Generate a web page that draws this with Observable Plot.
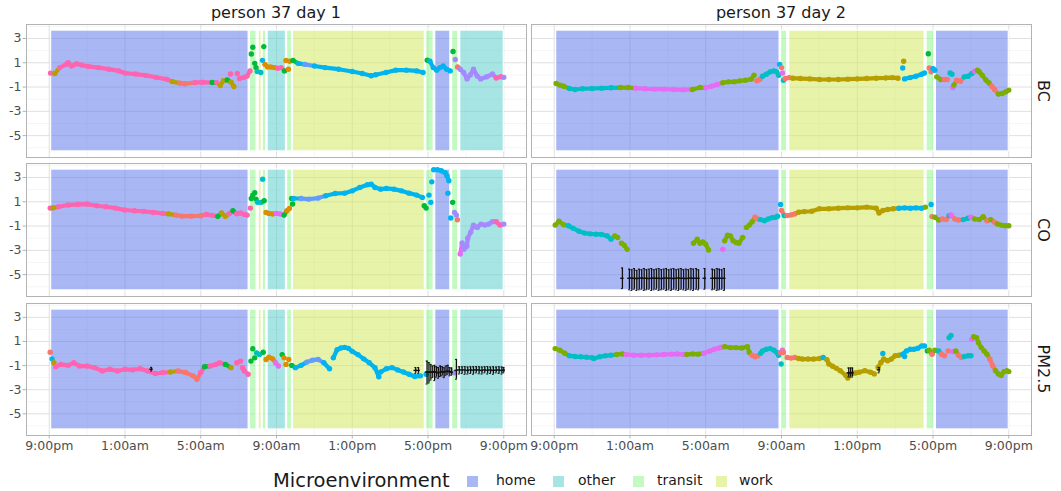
<!DOCTYPE html>
<html><head><meta charset="utf-8">
<script src="https://cdn.jsdelivr.net/npm/d3@7"></script>
<script src="https://cdn.jsdelivr.net/npm/@observablehq/plot@0.6"></script>
<style>
body{margin:0;background:#fff;}
#chart{position:relative;width:1061px;height:491px;font-family:"DejaVu Sans",sans-serif;overflow:hidden;background:#fff}
.panel{position:absolute}
.panel svg{overflow:visible}
.panel svg text{font-family:"DejaVu Sans",sans-serif !important;font-size:12.5px !important;fill:#4d4d4d}
.panel svg g[aria-label*="axis"] line,.panel svg g[aria-label*="axis"] path{stroke:#b3b3b3}
.lab{position:absolute;white-space:nowrap;color:#1a1a1a;line-height:1.25}
.sw{position:absolute;width:11px;height:11px}
</style></head><body><div id="chart"></div><script>
// ---- scales / labels ----
const xTicks = [0,4,8,12,16,20,24];
const xLabels = ["9:00pm","1:00am","5:00am","9:00am","1:00pm","5:00pm","9:00pm"];
const yTicks = [-5,-3,-1,1,3];
const facetCols = ["person 37 day 1","person 37 day 2"];
const facetRows = ["BC","CO","PM2.5"];
const envNames = ["home","other","transit","work"];
const envFill = ["#647ced","#5fd0d0","#90f690","#d2e961"];
const pointColors = ["#F8766D","#DE8C00","#B79F00","#7CAE00","#00BA38","#00BFC4","#00B4F0","#619CFF","#A58AFF","#E76BF3","#FF64B0"];

// ---- microenvironment periods (hours after 9:00pm) ----
const envDay1 = [["home",0.1,10.53],["transit",10.6,10.95],["work",11.06,11.22],["transit",11.27,11.46],["other",11.53,12.5],["transit",12.56,12.82],["work",12.87,19.83],["transit",19.9,20.3],["home",20.38,21.18],["transit",21.27,21.6],["other",21.7,24.0]];
const envDay2 = [["home",0.1,11.9],["transit",11.99,12.3],["work",12.41,19.56],["transit",19.66,20.07],["home",20.15,24.0]];

// ---- measurements: runs of [hour, value, colour group] ----
const bcDay1 = [
 [[0.07,0.15,10],[0.3,0.12,2],[0.55,0.6,10],[0.9,0.87,10],[1.0,1.0,10],[1.17,0.73,10],[1.45,0.92,10],[1.7,0.81,10],[2.07,0.7,10],[2.6,0.6,10],[3.14,0.47,10],[3.67,0.33,10],[4.0,0.15,10],[4.57,0.07,10],[5.1,-0.04,10],[5.64,-0.2,10],[6.2,-0.36,10],[6.5,-0.55,2],[6.9,-0.68,0],[7.16,-0.73,0],[7.7,-0.63,10],[8.1,-0.6,10],[8.6,-0.63,4],[8.85,-0.65,10]],
 [[9.03,-0.87,2],[9.2,-0.47,2],[9.4,-0.41,4],[9.6,-0.6,2],[9.75,-0.95,2]],
 [[9.57,0.07,10]],[[9.93,0.12,10]],
 [[10.05,-0.3,10],[10.28,-0.2,10],[10.45,-0.1,10],[10.6,0.33,10]],
 [[10.67,1.72,4]],[[10.75,2.28,4]],[[10.85,0.95,4]],[[10.92,0.6,4]],
 [[10.98,0.28,5],[11.17,0.2,5]],
 [[11.26,1.2,6]],[[11.33,2.33,4]],
 [[11.39,0.87,1],[11.53,0.65,1],[11.7,0.65,1],[11.9,0.6,1],[12.07,0.55,10],[12.25,0.6,10],[12.42,0.33,4]],
 [[12.5,1.19,1]],[[12.63,0.47,1]],[[12.7,1.13,1]],
 [[12.87,1.19,4],[13.14,0.95,6],[13.5,0.87,7],[14.0,0.73,6],[14.57,0.6,6],[15.28,0.47,6],[16.0,0.28,6],[16.53,0.12,6],[17.0,-0.07,6],[17.24,0.01,6],[17.78,0.2,6],[18.3,0.39,6],[18.85,0.39,6],[19.4,0.33,6],[19.74,0.2,6]],
 [[19.96,1.21,4],[20.1,1.13,6],[20.28,0.6,6],[20.46,0.39,6],[20.63,0.6,6],[20.8,0.73,6],[20.98,0.47,6],[21.17,0.33,6]],
 [[21.32,1.93,4]],[[21.44,1.27,8]],
 [[21.56,0.65,0],[21.7,0.47,8],[21.88,0.2,8],[22.06,-0.33,8],[22.24,0.01,8],[22.4,0.47,8],[22.6,-0.1,8],[22.78,-0.33,8],[23.1,-0.15,8],[23.4,0.07,8],[23.6,-0.25,10],[23.85,-0.15,10],[24.0,-0.2,8]]
];
const coDay1 = [
 [[0.05,0.48,10],[0.2,0.5,2],[0.5,0.59,10],[1.0,0.73,10],[1.5,0.78,10],[2.0,0.81,10],[2.5,0.67,10],[3.0,0.59,10],[3.5,0.48,10],[4.0,0.32,10],[4.5,0.26,10],[5.0,0.21,10],[5.5,0.12,10],[6.0,0.04,10],[6.3,0.0,2],[6.7,-0.1,0],[7.0,-0.18,0],[7.5,-0.18,0],[8.0,-0.15,0],[8.3,-0.04,10],[8.6,-0.12,10],[8.9,-0.2,4],[9.1,0.07,2],[9.3,-0.2,2],[9.5,0.01,10],[9.7,0.26,4],[9.9,0.01,10],[10.1,0.07,10],[10.3,-0.04,10],[10.45,-0.1,10]],
 [[10.62,0.48,10]],
 [[10.67,1.27,4]],[[10.75,1.55,4]],[[10.85,1.74,4]],[[10.92,1.22,4]],
 [[11.0,0.95,5],[11.2,0.95,5]],
 [[11.27,2.86,5]],[[11.35,1.08,4]],
 [[11.45,0.12,1],[11.6,0.04,1],[11.8,-0.01,1],[12.0,0.04,9],[12.2,-0.01,9],[12.4,-0.1,4],[12.55,0.26,1],[12.68,0.45,1]],
 [[12.8,1.27,4]],[[12.85,0.81,4]],
 [[12.9,1.27,6],[13.3,1.27,7],[13.7,1.22,7],[14.2,1.3,7],[14.6,1.49,6],[15.1,1.68,6],[15.6,1.71,6],[16.0,1.9,6],[16.4,2.18,6],[16.8,2.4,6],[17.0,2.45,6],[17.2,2.18,6],[17.5,2.04,6],[17.8,2.1,6],[18.2,2.04,6],[18.6,1.9,6],[19.0,1.71,6],[19.4,1.55,6],[19.7,1.36,6]],
 [[19.8,0.67,4]],[[19.9,0.48,4]],[[20.05,1.55,6]],[[20.15,0.95,6]],[[20.2,2.64,6]],
 [[20.3,3.63,6],[20.5,3.63,6],[20.7,3.55,6],[20.9,3.4,6],[21.0,3.14,6],[21.1,2.73,6]],
 [[21.05,1.71,6]],[[21.2,-0.34,6]],[[21.3,0.95,4]],
 [[21.4,0.12,8],[21.5,-0.1,8]],[[21.55,-0.48,0]],
 [[21.7,-3.3,9],[21.8,-2.4,8],[21.9,-2.9,8],[22.05,-2.67,8],[22.1,-2.0,8],[22.25,-1.52,8],[22.4,-0.92,8],[22.6,-1.11,8],[22.8,-0.84,8],[23.0,-0.92,8],[23.2,-0.84,8],[23.4,-0.64,8],[23.6,-0.64,10],[23.8,-0.92,10],[24.0,-0.84,8]]
];
const pmDay1 = [
 [[0.05,0.1,0]],[[0.15,-0.44,6]],[[0.25,-0.77,2]],
 [[0.35,-1.09,10],[0.6,-0.9,10],[1.0,-0.98,10],[1.3,-0.77,10],[1.6,-1.04,10],[2.0,-1.04,10],[2.4,-1.17,10],[2.8,-1.45,10],[3.2,-1.31,10],[3.6,-1.45,10],[4.0,-1.31,10],[4.4,-1.36,10],[4.8,-1.26,10],[5.2,-1.45,10],[5.6,-1.66,10],[6.0,-1.58,10],[6.4,-1.53,2],[6.8,-1.45,0],[7.2,-1.58,0],[7.6,-1.85,0],[7.8,-2.13,0],[8.0,-1.58,10],[8.2,-1.09,4],[8.5,-1.04,10],[8.8,-0.9,10],[9.0,-0.77,10],[9.3,-0.9,4],[9.6,-1.17,2]],
 [[9.9,-0.77,10],[10.1,-0.63,10]],
 [[10.2,-1.17,10],[10.3,-1.45,10],[10.5,-1.72,10]],
 [[10.65,-0.63,4]],[[10.75,0.4,4]],[[10.85,-0.36,4]],
 [[10.95,0.05,5],[11.1,-0.09,5],[11.3,0.1,4]],
 [[11.45,-0.49,1],[11.6,-0.3,1],[11.8,-0.44,1],[11.95,-0.77,9],[12.1,-1.04,9]],
 [[12.3,-0.09,4]],[[12.4,-0.36,1]],[[12.5,-0.9,1]],[[12.65,-0.49,1]],
 [[12.8,-0.98,4],[13.0,-1.17,6],[13.3,-0.98,6],[13.6,-0.71,7],[13.9,-0.55,7],[14.2,-0.49,7],[14.5,-0.77,6],[14.8,-1.26,6]],
 [[15.0,-0.36,6],[15.2,0.32,6],[15.4,0.46,6],[15.6,0.51,6],[15.8,0.43,6],[16.0,0.18,6],[16.3,-0.09,6],[16.6,-0.44,6],[16.9,-0.77,6],[17.2,-1.17,6],[17.4,-1.93,6]],
 [[17.5,-1.53,6],[17.8,-1.26,6],[18.1,-1.17,6],[18.4,-1.36,6],[18.7,-1.53,6],[19.0,-1.72,6],[19.3,-1.91,6],[19.6,-1.85,6]],
 [[19.9,-1.72,6]],[[21.4,-1.6,8]]
];
const bcDay2 = [
 [[0.1,-0.71,3],[0.3,-0.84,3],[0.5,-0.93,3],[0.8,-1.12,5],[1.1,-1.2,5],[1.5,-1.14,5],[2.0,-1.12,5],[2.5,-1.09,5],[3.0,-1.06,5],[3.5,-1.04,3],[3.9,-1.04,3],[4.3,-1.09,9],[4.8,-1.14,9],[5.3,-1.17,9],[5.8,-1.17,9],[6.3,-1.2,9],[6.8,-1.23,9],[7.3,-1.2,3],[7.7,-1.04,3],[8.0,-1.06,9],[8.3,-0.93,9],[8.6,-0.79,9],[8.9,-0.65,3],[9.2,-0.57,3],[9.5,-0.57,3],[9.8,-0.49,3],[10.1,-0.44,3],[10.4,-0.35,3],[10.55,-0.03,3]],
 [[10.7,-0.49,0],[10.85,-0.38,0],[11.0,-0.11,5],[11.2,0.05,5],[11.4,0.25,5],[11.6,0.33,5],[11.75,0.25,5],[11.85,-0.03,5]],
 [[11.9,0.87,6]],[[12.0,0.6,0]],[[12.05,0.16,9]],[[12.1,-0.44,5]],
 [[12.2,-0.3,0],[12.4,-0.22,0],[12.6,-0.27,2],[13.0,-0.3,2],[13.5,-0.33,2],[14.0,-0.38,2],[14.5,-0.38,2],[15.0,-0.38,2],[15.5,-0.35,2],[16.0,-0.33,2],[16.5,-0.3,2],[17.0,-0.27,2],[17.5,-0.25,2],[17.85,-0.22,2],[18.15,-0.27,2]],
 [[18.4,0.57,6]],[[18.45,1.12,2]],
 [[18.5,-0.33,6],[18.8,-0.22,6],[19.1,-0.11,6],[19.4,0.05,6],[19.55,0.16,6]],
 [[19.75,1.74,4]],[[19.8,0.57,0]],[[19.9,0.25,0]],[[20.0,0.52,6]],[[20.1,0.38,6]],
 [[20.2,-0.16,3],[20.4,-0.38,3],[20.6,-0.38,0],[20.75,-0.38,0]],
 [[20.9,0.16,5],[21.0,0.05,5]],
 [[21.05,-1.04,9],[21.1,-0.84,3],[21.25,-0.44,0],[21.45,-0.52,0],[21.65,-0.16,5],[21.85,-0.11,5],[22.05,0.11,5],[22.2,0.3,9],[22.35,0.38,3],[22.45,0.25,3],[22.6,-0.03,3],[22.8,-0.44,3],[22.95,-0.65,3],[23.1,-0.93,0],[23.25,-1.2,0],[23.45,-1.58,3],[23.65,-1.53,3],[23.85,-1.39,3],[24.0,-1.25,3]]
];
const coDay2 = [
 [[0.05,-0.92,3],[0.25,-0.61,3],[0.5,-0.89,3],[0.75,-0.97,5],[1.0,-1.19,5],[1.3,-1.42,5],[1.6,-1.58,5],[1.9,-1.64,5],[2.2,-1.67,5],[2.5,-1.69,5],[2.8,-1.81,5],[3.0,-2.08,5],[3.2,-1.81,3],[3.35,-1.94,3]],
 [[3.55,-2.42,3],[3.7,-2.58,3],[3.85,-2.92,3]],
 [[7.35,-2.42,3],[7.55,-2.08,3],[7.7,-2.42,3],[7.85,-2.31,3],[8.0,-2.5,3],[8.15,-2.97,3]],
 [[8.9,-2.92,9]],
 [[9.0,-2.22,3],[9.15,-1.75,3],[9.3,-1.81,3],[9.45,-2.22,3],[9.6,-2.36,3],[9.75,-2.42,3],[9.95,-1.94,3]],
 [[10.15,-1.11,3],[10.3,-0.92,3],[10.45,-0.64,3],[10.6,-0.28,0],[10.75,-0.42,0],[10.9,-0.47,5],[11.1,-0.56,5],[11.3,-0.42,5],[11.5,-0.31,5],[11.7,-0.28,5],[11.8,-0.19,5]],
 [[11.95,0.78,6]],
 [[12.0,0.28,0],[12.15,-0.14,5]],
 [[12.3,-0.14,0],[12.5,-0.08,0],[12.7,0.0,0],[12.9,0.14,2],[13.2,0.19,2],[13.6,0.22,2],[14.0,0.42,2],[14.5,0.42,2],[15.0,0.47,2],[15.5,0.5,2],[16.0,0.5,2],[16.5,0.56,2],[17.0,0.47,2],[17.15,0.08,2],[17.35,0.28,2],[17.6,0.36,2],[17.9,0.42,2],[18.2,0.47,6],[18.5,0.5,6],[18.8,0.47,6],[19.1,0.5,6],[19.4,0.47,6],[19.6,0.56,3]],
 [[19.9,0.78,6]],[[19.95,-0.22,0]],
 [[20.1,-0.28,3],[20.3,-0.5,3],[20.5,-0.42,0],[20.7,-0.47,0],[20.85,-0.14,5],[20.95,-0.08,9],[21.15,-0.42,0],[21.35,-0.5,0],[21.6,-0.47,5],[21.85,-0.36,5],[22.0,-0.28,9],[22.2,-0.42,3],[22.45,-0.47,3],[22.65,-0.22,3],[22.85,-0.56,0],[23.05,-0.47,3],[23.25,-0.69,0],[23.4,-0.83,3],[23.6,-0.92,3],[23.8,-0.97,3],[24.0,-0.97,3]]
];
const pmDay2 = [
 [[0.05,0.41,3],[0.3,0.27,3],[0.55,0.03,3],[0.8,-0.19,5],[1.1,-0.25,5],[1.4,-0.27,5],[1.7,-0.3,5],[2.0,-0.35,5],[2.1,-0.41,5],[2.4,-0.27,5],[2.7,-0.19,5],[3.0,-0.14,5],[3.3,-0.08,3],[3.6,-0.03,3],[3.8,-0.08,9],[4.2,-0.14,9],[4.6,-0.14,9],[5.0,-0.14,9],[5.4,-0.11,9],[5.8,-0.08,9],[6.2,-0.05,9],[6.5,-0.03,9],[6.8,-0.08,9],[7.0,-0.08,3],[7.3,-0.03,3],[7.6,-0.05,3],[7.9,0.03,9],[8.2,0.19,9],[8.45,0.35,9],[8.7,0.46,9],[8.85,0.52,9],[9.0,0.57,3],[9.3,0.49,3],[9.6,0.49,3],[9.9,0.46,3],[10.2,0.57,3],[10.3,0.08,3]],
 [[10.45,-0.14,0],[10.6,-0.27,0],[10.75,-0.19,0]],
 [[10.9,0.03,5],[11.0,0.22,5],[11.2,0.35,5],[11.4,0.41,5],[11.6,0.27,5],[11.75,0.08,5],[11.85,-0.14,5]],
 [[11.95,0.08,0]],[[12.05,0.27,9]],[[12.1,0.08,0]],[[11.98,-0.87,5]],
 [[12.3,-0.33,0],[12.5,-0.38,0],[12.7,-0.33,0],[12.9,-0.41,2],[13.1,-0.46,2],[13.4,-0.46,2],[13.7,-0.46,2],[14.0,-0.41,2],[14.2,-0.33,6],[14.4,-0.52,2],[14.5,-0.87,2],[14.7,-1.06,2],[14.9,-1.23,2],[15.1,-1.42,2],[15.4,-1.83,2],[15.5,-2.04,2],[15.6,-1.69,2],[15.9,-1.61,2],[16.1,-1.55,2],[16.4,-1.42,2],[16.7,-1.55,2],[16.9,-1.69,2]],
 [[17.1,-1.14,2],[17.25,-0.74,2],[17.4,-0.46,2],[17.6,-0.6,2],[17.8,-0.46,2],[18.0,-0.19,2],[18.2,-0.14,2],[18.4,-0.05,6],[18.6,0.22,6],[18.8,0.35,6],[19.0,0.35,6],[19.2,0.44,6],[19.4,0.63,6],[19.55,0.63,6]],
 [[18.5,-0.25,6]],[[17.35,0.0,6]],
 [[19.7,0.22,4],[19.8,0.27,3],[19.95,-0.05,0],[20.1,0.27,3],[20.3,0.22,5],[20.45,-0.05,0],[20.6,-0.19,0]],
 [[20.8,0.22,0]],[[20.85,1.31,5]],[[20.95,1.5,5]],
 [[21.05,0.16,9],[21.2,0.22,3],[21.35,-0.14,0],[21.5,-0.33,0],[21.65,-0.25,5],[21.85,-0.19,5],[22.0,-0.19,5]],
 [[22.05,1.17,9]],
 [[22.15,1.39,3],[22.3,1.31,3],[22.4,0.9,3],[22.55,0.49,3],[22.7,0.22,3],[22.85,-0.05,3],[23.0,-0.46,0],[23.15,-1.01,0],[23.3,-1.42,3],[23.45,-1.69,3],[23.6,-1.83,3],[23.75,-1.5,3],[23.9,-1.42,3],[24.0,-1.5,3]]
];

// ---- imputed ranges: [hour, mid, low, high] ----
const errPmDay1 = [[5.4,-1.3,-1.45,-1.15],[19.35,-1.4,-1.64,-1.17],[19.5,-1.4,-1.64,-1.17],
 [19.95,-1.53,-2.53,-0.63],[20.05,-1.55,-2.45,-0.75],[20.15,-1.53,-2.2,-0.9],[20.25,-1.55,-2.0,-1.04],[20.35,-1.5,-2.25,-0.98],[20.45,-1.55,-1.95,-1.1],[20.55,-1.6,-2.05,-1.17],[20.65,-1.55,-1.9,-1.04],[20.75,-1.5,-1.85,-1.09],[20.85,-1.55,-2.0,-1.17],[20.95,-1.5,-1.8,-1.04],[21.05,-1.45,-1.72,-0.98],[21.15,-1.5,-1.85,-1.17],[21.25,-1.55,-1.8,-1.2],
 [21.5,-1.4,-2.13,-0.49],
 [21.65,-1.36,-1.7,-1.1],[21.8,-1.36,-1.65,-1.1],[21.95,-1.36,-1.72,-1.09],[22.1,-1.4,-1.7,-1.12],[22.25,-1.36,-1.65,-1.1],[22.4,-1.38,-1.72,-1.1],[22.55,-1.36,-1.6,-1.09],[22.7,-1.36,-1.68,-1.1],[22.85,-1.4,-1.7,-1.12],[23.0,-1.36,-1.6,-1.1],[23.15,-1.38,-1.7,-1.09],[23.3,-1.36,-1.65,-1.12],[23.45,-1.4,-1.72,-1.1],[23.6,-1.38,-1.6,-1.12],[23.75,-1.36,-1.65,-1.1],[23.9,-1.4,-1.7,-1.12],[24.0,-1.38,-1.6,-1.15]];
const errCoDay2 = [[3.6,-5.3,-6.15,-4.45],
 [3.97,-5.3,-6.25,-4.55],[4.1,-5.28,-6.3,-4.6],[4.23,-5.3,-6.2,-4.5],[4.36,-5.32,-6.3,-4.65],[4.49,-5.3,-6.25,-4.55],[4.62,-5.28,-6.2,-4.6],[4.75,-5.3,-6.3,-4.5],[4.88,-5.3,-6.25,-4.6],[5.01,-5.32,-6.2,-4.55],[5.14,-5.3,-6.3,-4.5],[5.27,-5.28,-6.25,-4.6],[5.4,-5.3,-6.2,-4.55],[5.53,-5.3,-6.3,-4.5],[5.66,-5.32,-6.25,-4.6],[5.79,-5.3,-6.2,-4.55],[5.92,-5.28,-6.3,-4.5],[6.05,-5.3,-6.25,-4.6],[6.18,-5.3,-6.3,-4.55],[6.31,-5.32,-6.2,-4.5],[6.44,-5.3,-6.25,-4.6],[6.57,-5.28,-6.3,-4.55],[6.7,-5.3,-6.2,-4.5],[6.83,-5.3,-6.25,-4.6],[6.96,-5.32,-6.3,-4.55],[7.09,-5.3,-6.2,-4.6],[7.22,-5.28,-6.25,-4.5],[7.35,-5.3,-6.3,-4.55],
 [7.5,-5.3,-6.2,-4.5],[7.62,-5.3,-6.25,-4.6],[7.95,-5.3,-6.2,-4.5],
 [8.35,-5.3,-6.25,-4.55],[8.47,-5.3,-6.2,-4.6],[8.6,-5.3,-6.3,-4.5],[8.72,-5.3,-6.25,-4.55],[8.85,-5.3,-6.2,-4.6],[8.98,-5.3,-6.3,-4.5]];
const errPmDay2 = [[15.55,-1.6,-1.95,-1.2],[15.65,-1.6,-1.95,-1.2],[15.75,-1.6,-1.95,-1.2],[17.15,-1.35,-1.6,-1.15]];

// ---- layout ----
const rowGeom = [{top:0,height:160,mt:24,mb:3},{top:160,height:140,mt:3,mb:4},{top:300,height:166,mt:3,mb:31}];
const colGeom = [{left:0,width:528,ml:26,mr:2},{left:529,width:532,ml:2,mr:30}];

const chart = document.getElementById("chart");

function flatten(runs){const out=[];runs.forEach((r,i)=>r.forEach(([h,v,c])=>out.push({h,v,c,run:i})));return out;}

function panel(runs, env, err, row, col){
  const g = rowGeom[row], c = colGeom[col];
  const pts = flatten(runs);
  const bg = env.map(([e,s,t])=>({e,s,t}));
  const er = (err||[]).map(([h,mid,lo,hi])=>({h,mid,lo,hi}));
  const ek = {stroke:"#111", strokeWidth:1};
  const marks = [
    Plot.ruleY([-6,-4,-2,0,2,4], {stroke:"#efefef", strokeWidth:0.6}),
    Plot.ruleX([2,6,10,14,18,22], {stroke:"#efefef", strokeWidth:0.6}),
    Plot.ruleY(yTicks, {stroke:"#e0e0e0", strokeWidth:1}),
    Plot.ruleX(xTicks, {stroke:"#e0e0e0", strokeWidth:1}),
    Plot.rect(bg, {x1:"s", x2:"t", y1:()=>-6.3, y2:()=>3.65, fill:d=>envFill[envNames.indexOf(d.e)], fillOpacity:0.55, stroke:"white", strokeWidth:1.2}),
    Plot.line(pts, {x:"h", y:"v", z:"run", stroke:d=>pointColors[d.c], strokeWidth:4.2}),
    Plot.dot(pts, {x:"h", y:"v", r:2.7, fill:d=>pointColors[d.c]}),
    Plot.ruleX(er, {x:"h", y1:"lo", y2:"hi", stroke:"#111", strokeWidth:1.3}),
    Plot.ruleY(er, {y:"lo", x1:d=>d.h-0.05, x2:d=>d.h+0.05, ...ek}),
    Plot.ruleY(er, {y:"hi", x1:d=>d.h-0.05, x2:d=>d.h+0.05, ...ek}),
    Plot.ruleY(er, {y:"mid", x1:d=>d.h-0.09, x2:d=>d.h+0.09, stroke:"#111", strokeWidth:1.4}),
    Plot.frame({stroke:"#b3b3b3", strokeWidth:1})
  ];
  const svg = Plot.plot({
    width:c.width, height:g.height,
    marginLeft:c.ml, marginRight:c.mr, marginTop:g.mt, marginBottom:g.mb,
    x:{domain:[-1.2,25.2], axis: row===2 ? "bottom" : null, ticks:xTicks, tickFormat:d=>xLabels[xTicks.indexOf(d)], tickSize:3.5, tickPadding:2, label:null},
    y:{domain:[-6.8,4.15], axis: col===0 ? "left" : null, ticks:yTicks, tickFormat:d=>String(d), tickSize:3.5, tickPadding:1.5, label:null},
    color:{type:"identity"},
    style:{background:"transparent", overflow:"visible"},
    marks
  });
  const div = document.createElement("div");
  div.className = "panel";
  div.style.left = c.left+"px"; div.style.top = g.top+"px";
  div.style.width = c.width+"px"; div.style.height = g.height+"px";
  div.appendChild(svg);
  chart.appendChild(div);
}

const panels = [[bcDay1,envDay1,null],[coDay1,envDay1,null],[pmDay1,envDay1,errPmDay1],[bcDay2,envDay2,null],[coDay2,envDay2,errCoDay2],[pmDay2,envDay2,errPmDay2]];
panels.forEach(([runs,env,err],i)=>panel(runs,env,err,i%3,Math.floor(i/3)));

function label(text, x, y, size, rotate, align){
  const d = document.createElement("div");
  d.className = "lab"; d.textContent = text;
  d.style.fontSize = size+"px";
  d.style.left = x+"px"; d.style.top = y+"px";
  d.style.transform = (align==="left" ? "translate(0,-50%)" : "translate(-50%,-50%)") + (rotate ? " rotate(90deg)" : "");
  chart.appendChild(d);
}
// facet strips
label(facetCols[0], 276, 13, 16, false);
label(facetCols[1], 781, 13, 16, false);
const stripY = [90.5, 229.5, 369];
facetRows.forEach((r,i)=>label(r, 1043, stripY[i], 16, true));

// legend
label("Microenvironment", 273, 481, 19.5, false, "left");
const swX = [467,553,633,716], txX = [496,578,657,739];
envNames.forEach((e,i)=>{
  const s = document.createElement("div");
  s.className = "sw";
  s.style.left = swX[i]+"px"; s.style.top = "476px";
  s.style.background = envFill[i]; s.style.opacity = 0.55;
  chart.appendChild(s);
  label(e, txX[i], 481, 14, false, "left");
});
</script></body></html>
